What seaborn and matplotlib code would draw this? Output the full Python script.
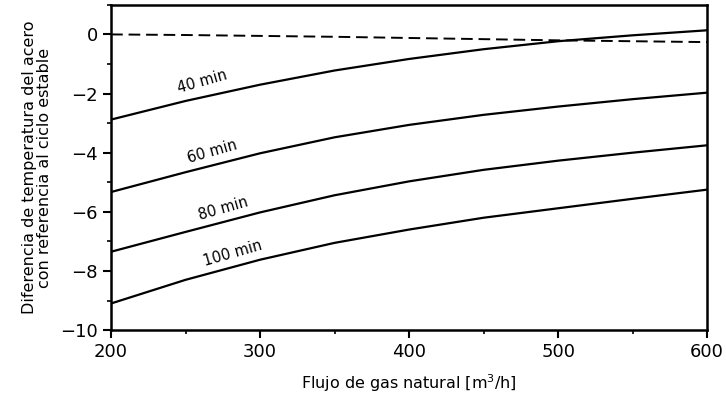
import pandas as pd
import matplotlib.pyplot as plt
import seaborn as sns
from matplotlib.ticker import MultipleLocator

# Flujo de gas natural [m3/h]
flujo = [200, 250, 300, 350, 400, 450, 500, 550, 600]

# Diferencia de temperatura por tiempo de ciclo
t40 = [-2.88, -2.25, -1.70, -1.22, -0.83, -0.50, -0.23, -0.03, 0.14]
t60 = [-5.33, -4.66, -4.02, -3.48, -3.06, -2.72, -2.44, -2.19, -1.97]
t80 = [-7.35, -6.68, -6.02, -5.44, -4.97, -4.58, -4.27, -4.00, -3.75]
t100 = [-9.10, -8.30, -7.62, -7.05, -6.60, -6.20, -5.88, -5.56, -5.25]
ref = [0.0, -0.02, -0.05, -0.08, -0.12, -0.16, -0.20, -0.23, -0.26]

curve_labels = ["40 min", "60 min", "80 min", "100 min"]
label_x = [261, 268, 275, 282]
label_y = [-1.6, -3.95, -5.88, -7.42]

df = pd.DataFrame({
    "flujo": flujo * 4,
    "dif": t40 + t60 + t80 + t100,
    "curva": sum([[c] * len(flujo) for c in curve_labels], []),
})
df_ref = pd.DataFrame({"flujo": flujo, "dif": ref})

sns.set_style("ticks")
plt.rcParams["font.family"] = ["DejaVu Sans"]
plt.rcParams["text.color"] = "black"
plt.rcParams["axes.labelcolor"] = "black"

fig = plt.figure(figsize=(7.26, 4.05), dpi=100)
ax = fig.add_axes([0.153, 0.185, 0.821, 0.803])

for c in curve_labels:
    sns.lineplot(data=df[df["curva"] == c], x="flujo", y="dif", color="black",
                 linewidth=1.6, ax=ax, legend=False)
sns.lineplot(data=df_ref, x="flujo", y="dif", color="black", linewidth=1.4,
             linestyle=(0, (6, 3)), ax=ax, legend=False)

for lab, x, y in zip(curve_labels, label_x, label_y):
    ax.text(x, y, lab, fontsize=10.5, rotation=16, ha="center", va="center",
            color="black")

ax.set_xlim(200, 600)
ax.set_ylim(-10, 1)
ax.xaxis.set_major_locator(MultipleLocator(100))
ax.xaxis.set_minor_locator(MultipleLocator(50))
ax.yaxis.set_major_locator(MultipleLocator(2))
ax.yaxis.set_minor_locator(MultipleLocator(1))
ax.tick_params(which="major", direction="out", length=6, width=1.5, labelsize=13, colors="black")
ax.tick_params(which="minor", direction="out", length=3, width=1.2, colors="black")
for s in ax.spines.values():
    s.set_linewidth(1.8)
    s.set_color("black")

ax.set_xlabel("Flujo de gas natural [m$^3$/h]", fontsize=11.5, labelpad=8)
ax.set_ylabel("Diferencia de temperatura del acero\ncon referencia al ciclo estable",
              fontsize=11.5, linespacing=0.95, labelpad=6)

fig.savefig("out.png", dpi=100)
